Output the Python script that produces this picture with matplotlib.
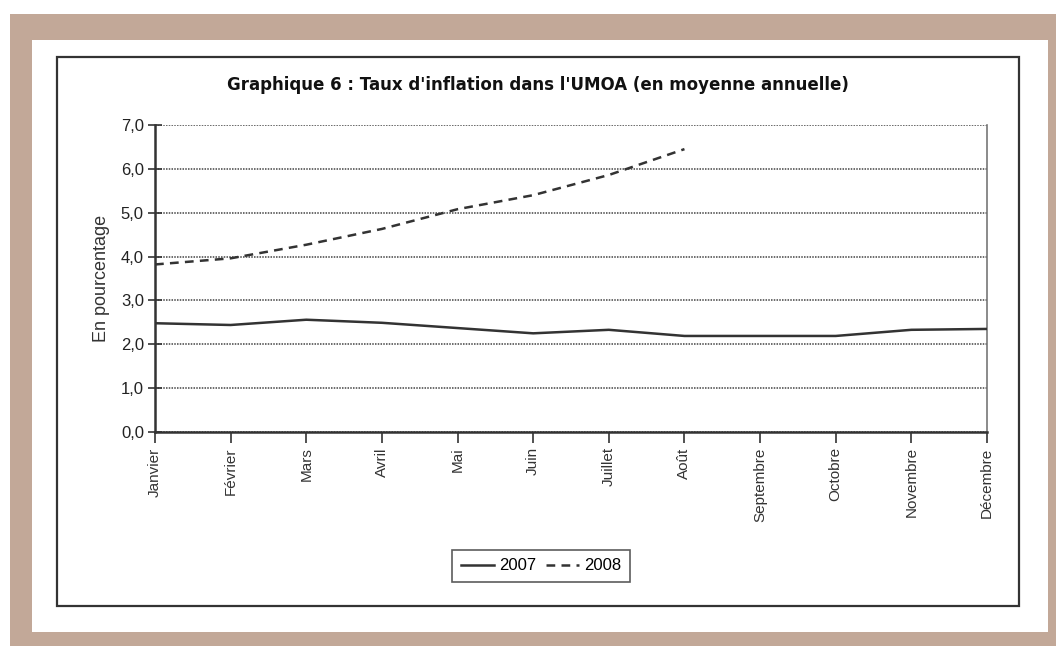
import numpy as np
import matplotlib
matplotlib.use("Agg")
import matplotlib.pyplot as plt
from matplotlib.patches import Rectangle
from matplotlib.ticker import FuncFormatter

mois = ["Janvier", "Février", "Mars", "Avril", "Mai", "Juin", "Juillet",
        "Août", "Septembre", "Octobre", "Novembre", "Décembre"]
taux_2007 = [2.48, 2.44, 2.56, 2.49, 2.37, 2.25, 2.33, 2.19, 2.19, 2.19, 2.33, 2.35]
taux_2008 = [3.82, 3.96, 4.27, 4.63, 5.08, 5.40, 5.86, 6.45]
y_ticks = [0, 1, 2, 3, 4, 5, 6, 7]

W, H = 1056, 646
plt.rcParams["font.family"] = ["Liberation Sans", "DejaVu Sans"]
fig = plt.figure(figsize=(W / 100, H / 100), dpi=100)
fig.patch.set_facecolor("white")


def px_rect(x0, y0, x1, y1, **kw):
    # rectangle donné en pixels (origine en haut à gauche)
    r = Rectangle((x0 / W, 1 - y1 / H), (x1 - x0) / W, (y1 - y0) / H,
                  transform=fig.transFigure, **kw)
    fig.patches.append(r)


px_rect(10, 14, 1056, 646, facecolor="#c2a898", edgecolor="none", zorder=0)
px_rect(32, 40, 1048, 632, facecolor="white", edgecolor="none", zorder=1)
px_rect(57, 57, 1019, 606, facecolor="white", edgecolor="#333333", lw=1.6, zorder=2)

ax = fig.add_axes([155 / W, 1 - 432 / H, 832 / W, 307 / H])
ax.set_zorder(3)
ax.set_facecolor("white")

x = np.arange(len(mois))
ax.plot(x, taux_2007, color="#333333", lw=1.8, label="2007", zorder=4)
ax.plot(x[:len(taux_2008)], taux_2008, color="#333333", lw=1.8,
        ls=(0, (3.5, 2.5)), label="2008", zorder=4)

ax.set_xlim(0, len(mois) - 1)
ax.set_ylim(0, 7)
ax.set_yticks(y_ticks)
ax.yaxis.set_major_formatter(FuncFormatter(lambda v, p: f"{v:.1f}".replace(".", ",")))
ax.set_xticks(x)
ax.set_xticklabels(mois, rotation=90, fontsize=11, color="#222222")
ax.tick_params(axis="y", direction="inout", length=10, width=1.2,
               labelsize=12, colors="#333333", labelcolor="#222222", pad=3)
ax.tick_params(axis="x", direction="out", length=8, width=1.2,
               colors="#333333", pad=3)

ax.grid(axis="y", color="#444444", ls=(0, (1, 0.8)), lw=1.1)
ax.set_axisbelow(True)
ax.spines["top"].set_visible(False)
for s in ["left", "bottom"]:
    ax.spines[s].set_color("#333333")
    ax.spines[s].set_linewidth(1.8)
ax.spines["right"].set_color("#777777")
ax.spines["right"].set_linewidth(1.2)

ax.set_ylabel("En pourcentage", fontsize=13, color="#333333", labelpad=8)

fig.text(538 / W, 1 - 85 / H,
         "Graphique 6 : Taux d'inflation dans l'UMOA (en moyenne annuelle)",
         ha="center", va="center", fontsize=12, fontweight="bold",
         family=["DejaVu Sans"], color="#111111", zorder=5)

leg = fig.legend(loc="center", bbox_to_anchor=(541 / W, 1 - 566 / H), ncol=2,
                 fontsize=12, frameon=True, fancybox=False, handlelength=2.0,
                 handletextpad=0.3, columnspacing=0.6, borderpad=0.5)
leg.get_frame().set_edgecolor("#333333")
leg.get_frame().set_linewidth(1.2)
leg.set_zorder(6)

fig.savefig("out.png", dpi=100)
